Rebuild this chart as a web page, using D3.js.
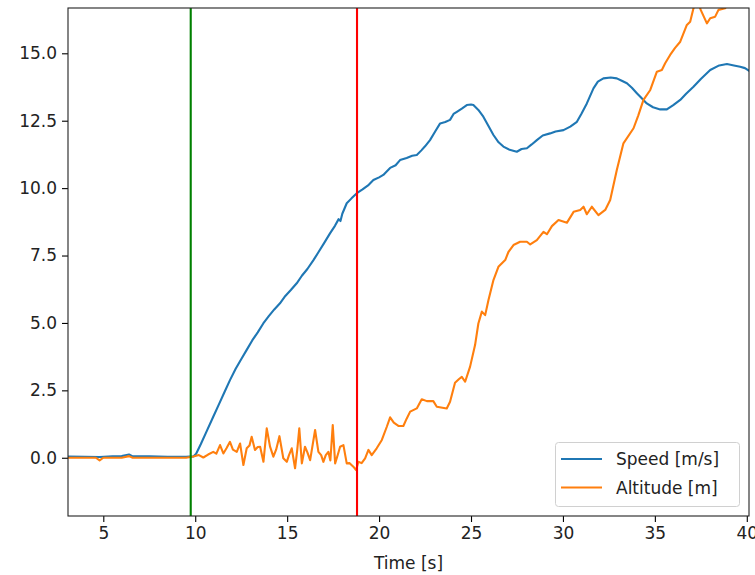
<!DOCTYPE html>
<html>
<head>
<meta charset="utf-8">
<script src="https://cdn.jsdelivr.net/npm/d3@7"></script>
<style>
  html, body { margin: 0; padding: 0; background: #fff; }
  svg { display: block; font-family: "DejaVu Sans", sans-serif; }
</style>
</head>
<body>
<svg id="chart" width="755" height="575"></svg>
<script>
// ---------- data ----------
const speedTime = [3.0,4.0,4.8,5.5,6.0,6.4,6.6,7.5,8.5,9.5,9.9,10.05,10.3,10.6,10.98,11.3,11.6,11.89,12.2,12.5,12.8,13.1,13.4,13.7,14.0,14.3,14.61,14.9,15.2,15.52,15.8,16.1,16.43,16.7,17.0,17.33,17.6,17.8,17.9,18.0,18.24,18.5,18.79,19.1,19.4,19.69,20.0,20.23,20.6,20.9,21.14,21.5,21.8,22.05,22.3,22.5,22.77,23.05,23.32,23.6,23.86,24.05,24.23,24.5,24.77,25.0,25.13,25.4,25.67,25.95,26.22,26.5,26.76,27.1,27.49,27.75,28.04,28.3,28.58,28.9,29.3,29.6,30.03,30.4,30.76,31.0,31.3,31.66,31.9,32.2,32.6,32.93,33.2,33.48,33.75,34.02,34.3,34.56,34.9,35.29,35.65,36.0,36.38,36.7,37.1,37.5,38.01,38.5,38.92,39.3,39.64,39.9,40.2];
const speedValue = [0.05,0.04,0.03,0.05,0.06,0.12,0.05,0.05,0.04,0.04,0.05,0.15,0.5,0.95,1.52,2.0,2.45,2.88,3.3,3.65,4.0,4.35,4.65,4.98,5.25,5.5,5.73,6.0,6.22,6.47,6.75,7.0,7.33,7.62,7.95,8.32,8.6,8.85,8.78,9.05,9.44,9.62,9.81,9.95,10.1,10.3,10.4,10.49,10.75,10.85,11.04,11.12,11.2,11.23,11.4,11.55,11.78,12.1,12.4,12.45,12.53,12.75,12.83,12.95,13.08,13.1,13.08,12.9,12.65,12.3,11.97,11.7,11.54,11.42,11.35,11.45,11.48,11.62,11.78,11.95,12.03,12.1,12.15,12.28,12.46,12.75,13.14,13.7,13.95,14.07,14.1,14.07,13.98,13.89,13.72,13.52,13.32,13.14,13.0,12.92,12.92,13.08,13.27,13.5,13.76,14.05,14.38,14.55,14.6,14.55,14.5,14.45,14.32];

const altTime = [3.0,4.0,4.6,4.8,5.0,6.0,6.4,6.6,7.5,8.5,9.5,9.9,10.2,10.44,10.7,10.98,11.15,11.35,11.53,11.7,11.89,12.05,12.26,12.44,12.62,12.8,12.95,13.07,13.25,13.4,13.53,13.71,13.89,14.07,14.25,14.4,14.58,14.79,14.98,15.1,15.25,15.43,15.55,15.66,15.8,15.97,16.1,16.25,16.52,16.7,16.85,16.97,17.1,17.24,17.35,17.48,17.61,17.75,17.88,18.06,18.24,18.4,18.6,18.75,18.87,19.05,19.24,19.42,19.6,19.87,20.15,20.42,20.6,20.8,21.05,21.32,21.5,21.69,22.05,22.32,22.6,22.95,23.14,23.68,23.86,24.13,24.35,24.5,24.68,24.95,25.22,25.4,25.59,25.77,25.95,26.22,26.49,26.86,27.04,27.31,27.67,28.04,28.22,28.58,28.94,29.13,29.4,29.76,30.22,30.58,30.94,31.12,31.3,31.57,31.93,32.3,32.57,32.93,33.29,33.84,34.1,34.38,34.75,35.11,35.38,35.56,35.83,36.1,36.38,36.74,36.92,37.1,37.3,37.5,37.83,38.01,38.28,38.46,38.82,39.2,39.6,40.2];
const altValue = [0.0,0.0,0.0,-0.1,0.0,0.0,0.06,0.0,0.0,0.0,0.0,0.05,0.1,0.01,0.12,0.22,0.15,0.47,0.16,0.35,0.59,0.3,0.22,0.53,-0.27,0.35,0.45,0.78,0.29,0.4,0.41,-0.15,1.09,0.41,0.04,0.3,0.8,-0.02,-0.15,0.1,0.35,-0.39,0.3,1.09,-0.21,0.41,0.2,-0.09,1.03,0.22,0.1,-0.15,0.1,0.22,-0.1,1.21,-0.21,0.1,0.41,0.47,-0.21,-0.2,-0.33,-0.46,-0.15,-0.2,-0.02,0.29,0.1,0.35,0.66,1.15,1.5,1.3,1.18,1.18,1.45,1.71,1.83,2.17,2.1,2.1,1.89,1.83,2.08,2.78,2.92,3.0,2.82,3.38,4.18,4.98,5.42,5.29,5.85,6.59,7.08,7.33,7.64,7.89,8.01,8.01,7.91,8.07,8.38,8.29,8.59,8.82,8.72,9.12,9.19,9.31,9.03,9.31,9.0,9.19,9.56,10.67,11.66,12.22,12.7,13.27,13.64,14.32,14.38,14.63,14.94,15.2,15.43,16.05,16.17,16.67,17.0,16.6,16.11,16.3,16.36,16.61,16.67,17.0,17.3,17.6];

const markerTimes = [9.755, 18.80];
const markerColors = ["#008000", "#ff0000"];
const seriesNames = ["Speed [m/s]", "Altitude [m]"];
const seriesColors = ["#1f77b4", "#ff7f0e"];
const xTicks = [5, 10, 15, 20, 25, 30, 35, 40];
const yTicks = [0, 2.5, 5, 7.5, 10, 12.5, 15];
const xLabel = "Time [s]";

// ---------- layout ----------
const L = 68, R = 749, T = 8, B = 516;
const FS = 17;
const svg = d3.select("#chart");

const x = d3.scaleLinear().domain([3.08, 40.12]).range([L, R]);
const y = d3.scaleLinear().domain([-2.16, 16.68]).range([B, T]);

svg.append("defs").append("clipPath").attr("id", "clip")
  .append("rect").attr("x", L).attr("y", T).attr("width", R - L).attr("height", B - T);

const plot = svg.append("g").attr("clip-path", "url(#clip)");

const line = d3.line().x(d => x(d[0])).y(d => y(d[1]));
const speedData = d3.zip(speedTime, speedValue);
const altData = d3.zip(altTime, altValue);

plot.append("path").datum(speedData).attr("d", line)
  .attr("fill", "none").attr("stroke", seriesColors[0]).attr("stroke-width", 2.1)
  .attr("stroke-linejoin", "round").attr("stroke-linecap", "square");
plot.append("path").datum(altData).attr("d", line)
  .attr("fill", "none").attr("stroke", seriesColors[1]).attr("stroke-width", 2.1)
  .attr("stroke-linejoin", "round").attr("stroke-linecap", "square");

markerTimes.forEach((t, i) => {
  plot.append("line")
    .attr("x1", x(t)).attr("x2", x(t)).attr("y1", T).attr("y2", B)
    .attr("stroke", markerColors[i]).attr("stroke-width", 2.1);
});

// axes
const xAxis = d3.axisBottom(x).tickValues(xTicks).tickSizeInner(6).tickSizeOuter(0).tickPadding(5)
  .tickFormat(d3.format("d"));
const yAxis = d3.axisLeft(y).tickValues(yTicks).tickSizeInner(6).tickSizeOuter(0).tickPadding(5)
  .tickFormat(d3.format(".1f"));

const gx = svg.append("g").attr("transform", `translate(0,${B})`).call(xAxis);
const gy = svg.append("g").attr("transform", `translate(${L},0)`).call(yAxis);
[gx, gy].forEach(g => {
  g.select(".domain").remove();
  g.selectAll(".tick line").attr("stroke", "#000").attr("stroke-width", 1.1);
  g.selectAll(".tick text").attr("fill", "#222").style("font-size", FS + "px")
    .style("font-family", "'DejaVu Sans', sans-serif");
});

// frame
svg.append("rect").attr("x", L).attr("y", T).attr("width", R - L).attr("height", B - T)
  .attr("fill", "none").attr("stroke", "#222").attr("stroke-width", 1.1);

// x label
svg.append("text").attr("x", (L + R) / 2).attr("y", 569)
  .attr("text-anchor", "middle").attr("fill", "#222")
  .style("font-size", FS + "px").text(xLabel);

// legend
const lg = svg.append("g");
lg.append("rect").attr("x", 555.5).attr("y", 442.5).attr("width", 184).attr("height", 64)
  .attr("rx", 3).attr("fill", "#fff").attr("fill-opacity", 0.8)
  .attr("stroke", "#d0d0d0").attr("stroke-width", 1);
seriesNames.forEach((name, i) => {
  const cy = 459 + i * 28.5;
  lg.append("line").attr("x1", 561).attr("x2", 602).attr("y1", cy).attr("y2", cy)
    .attr("stroke", seriesColors[i]).attr("stroke-width", 2.1);
  lg.append("text").attr("x", 616).attr("y", cy).attr("dy", "0.36em")
    .attr("fill", "#222").style("font-size", FS + "px").text(name);
});
</script>
</body>
</html>
